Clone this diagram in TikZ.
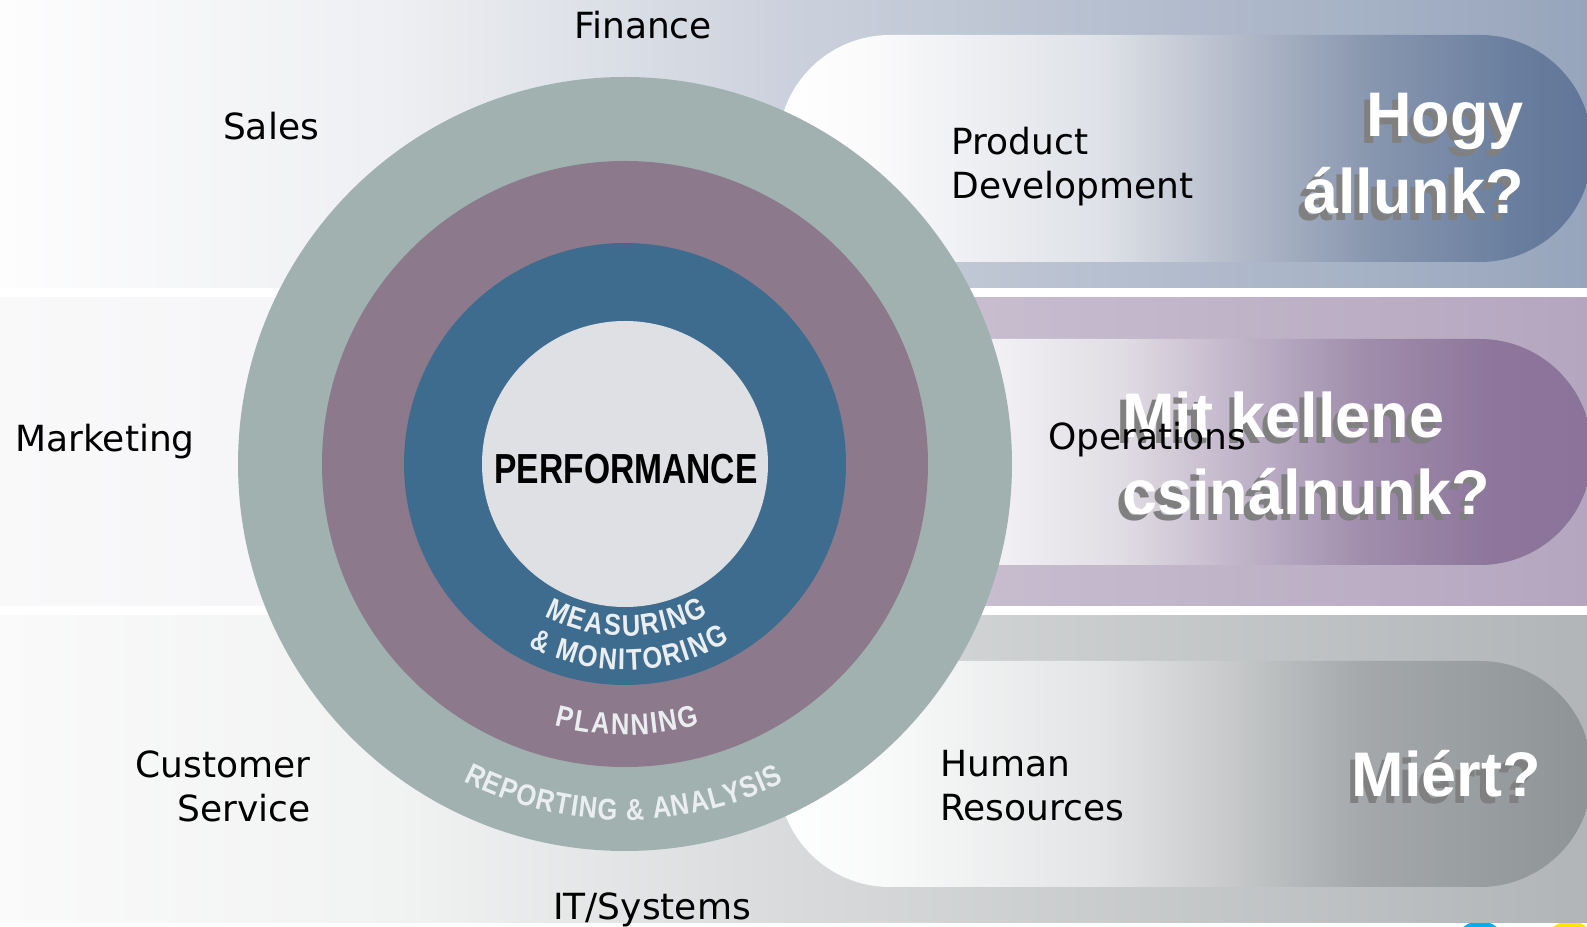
\documentclass[tikz,border=0pt]{standalone}
\usepackage{fontspec}
\setmainfont{DejaVu Sans}
\newfontfamily\deptfont{DejaVu Sans}
\newfontfamily\bigfont{Liberation Sans}
\newfontfamily\perffont[FakeStretch=0.8]{Liberation Sans}
\newfontfamily\ringfont[FakeStretch=0.85]{Liberation Sans}
\usepackage{tikz}
\usetikzlibrary{decorations.text}

\newcommand\ringstyle{\ringfont\bfseries\fontsize{15}{15}\selectfont\color{ringtext}}
\newcommand\ringamp{\ringstyle\&}

\definecolor{outerring}{RGB}{161,177,176}
\definecolor{planring}{RGB}{140,121,139}
\definecolor{measring}{RGB}{61,108,143}
\definecolor{perfcore}{RGB}{223,224,228}
\definecolor{ringtext}{RGB}{234,238,240}
\definecolor{qshadow}{RGB}{128,128,128}
\definecolor{logocyan}{RGB}{0,174,239}
\definecolor{logoyellow}{RGB}{255,230,0}
% background bands
\definecolor{tb0}{RGB}{253,253,254}
\definecolor{tb1}{RGB}{238,239,242}
\definecolor{tb2}{RGB}{203,209,220}
\definecolor{tb3}{RGB}{151,165,188}
\definecolor{mb0}{RGB}{249,249,250}
\definecolor{mb1}{RGB}{243,242,245}
\definecolor{mb2}{RGB}{203,193,211}
\definecolor{mb3}{RGB}{199,189,207}
\definecolor{mb4}{RGB}{181,166,191}
\definecolor{bb0}{RGB}{250,250,250}
\definecolor{bb1}{RGB}{241,242,242}
\definecolor{bb2}{RGB}{216,218,219}
\definecolor{bb3}{RGB}{178,181,183}
% pills
\definecolor{tp1}{RGB}{250,250,251}
\definecolor{tp2}{RGB}{222,225,231}
\definecolor{tp3}{RGB}{183,190,204}
\definecolor{tp4}{RGB}{138,152,176}
\definecolor{tp5}{RGB}{106,127,159}
\definecolor{tp6}{RGB}{96,117,152}
\definecolor{mp1}{RGB}{241,240,243}
\definecolor{mp2}{RGB}{225,221,228}
\definecolor{mp3}{RGB}{196,185,204}
\definecolor{mp4}{RGB}{160,141,172}
\definecolor{mp5}{RGB}{141,117,155}
\definecolor{mp6}{RGB}{139,115,153}
\definecolor{lp1}{RGB}{247,248,248}
\definecolor{lp2}{RGB}{226,228,229}
\definecolor{lp3}{RGB}{200,202,203}
\definecolor{lp4}{RGB}{164,168,170}
\definecolor{lp5}{RGB}{142,147,150}

\pgfdeclarehorizontalshading{topband}{100bp}{color(0bp)=(tb0); color(25bp)=(tb0); color(37.5bp)=(tb1); color(50bp)=(tb2); color(75bp)=(tb3); color(100bp)=(tb3)}
\pgfdeclarehorizontalshading{midband}{100bp}{color(0bp)=(mb0); color(25bp)=(mb0); color(40bp)=(mb1); color(50bp)=(mb2); color(56bp)=(mb3); color(75bp)=(mb4); color(100bp)=(mb4)}
\pgfdeclarehorizontalshading{lowband}{100bp}{color(0bp)=(bb0); color(25bp)=(bb0); color(37.5bp)=(bb1); color(50bp)=(bb2); color(75bp)=(bb3); color(100bp)=(bb3)}
\pgfdeclarehorizontalshading{toppill}{100bp}{color(0bp)=(white); color(25bp)=(white); color(31bp)=(tp1); color(45bp)=(tp2); color(52.5bp)=(tp3); color(61bp)=(tp4); color(70bp)=(tp5); color(75bp)=(tp6); color(100bp)=(tp6)}
\pgfdeclarehorizontalshading{midpill}{100bp}{color(0bp)=(white); color(25bp)=(white); color(38.5bp)=(mp1); color(46bp)=(mp2); color(52.5bp)=(mp3); color(61bp)=(mp4); color(69bp)=(mp5); color(75bp)=(mp6); color(100bp)=(mp6)}
\pgfdeclarehorizontalshading{lowpill}{100bp}{color(0bp)=(white); color(25bp)=(white); color(32.5bp)=(lp1); color(45bp)=(lp2); color(52.5bp)=(lp3); color(61bp)=(lp4); color(75bp)=(lp5); color(100bp)=(lp5)}

\begin{document}
\begin{tikzpicture}[x=0.5pt, y=0.5pt,
    dept/.style={font=\deptfont\fontsize{18}{22}\selectfont, inner sep=0pt},
    question/.style={font=\bigfont\bfseries\fontsize{31.5}{38.5}\selectfont, text=white, inner sep=0pt},
    qshade/.style={question, text=qshadow, xshift=-2.75pt, yshift=-3.25pt},
    ring/.style={circle, inner sep=0pt},
    pill/.style={rounded corners=56pt},
    ringword/.style={decorate, decoration={text along path, text align=fit to path,
        text={|\ringstyle|#1}}}]
    \useasboundingbox (0,0) rectangle (1587,927);
    \fill[white] (0,0) rectangle (1587,927);

    % logo peeking in at the bottom edge
    \fill[logocyan] (1480,-20) circle[radius=26];
    \fill[logoyellow] (1570,-20) circle[radius=26];

    % Bandes de fond
    \shade[shading=topband] (0,639) rectangle (1587,927);
    \shade[shading=midband] (0,321) rectangle (1587,629);
    \shade[shading=lowband] (0,4) rectangle (1587,311);

    % Pilules
    \shade[pill, shading=toppill] (778,665) rectangle (1592,892);
    \shade[pill, shading=midpill] (778,362) rectangle (1592,588);
    \shade[pill, shading=lowpill] (778,40) rectangle (1592,266);

    % Cible
    \coordinate (ctr) at (625,463);
    \node[ring, fill=outerring, minimum size=387pt] (reporting) at (ctr) {};
    \node[ring, fill=planring, minimum size=303pt] (planning) at (ctr) {};
    \node[ring, fill=measring, minimum size=221pt] (measuring) at (ctr) {};
    \node[ring, fill=perfcore, minimum size=143pt] (core) at (ctr) {};
    \node[font=\perffont\bfseries\fontsize{21}{21}\selectfont, inner sep=0pt] (perf) at (626,458) {PERFORMANCE};

    % Textes courbes
    \path[ringword={MEASURING}, shift={(ctr)}] (242:172) arc[start angle=242, end angle=299, radius=172];
    \path[ringword={{\ringamp} MONITORING}, shift={(ctr)}] (242:206) arc[start angle=242, end angle=300.5, radius=206];
    \path[ringword={PLANNING}, shift={(ctr)}] (255:271) arc[start angle=255, end angle=286, radius=271];
    \path[ringword={REPORTING {\ringamp} ANALYSIS}, shift={(ctr)}] (243:356) arc[start angle=243, end angle=296.5, radius=356];

    % Départements
    \node[dept, anchor=base] (finance) at (643,888) {Finance};
    \node[dept, anchor=base] (sales) at (271,787) {Sales};
    \node[dept, anchor=north west, align=left] (product) at (951,800) {Product\\Development};
    \node[dept, anchor=base west] (marketing) at (15,475) {Marketing};
    \node[dept, anchor=north east, align=right] (customer) at (311,177) {Customer\\Service};
    \node[dept, anchor=north west, align=left] (human) at (940,177) {Human\\Resources};
    \node[dept, anchor=base] (itsys) at (652,7) {IT/Systems};

    % Questions
    \node[qshade, anchor=north east, align=right] (hogyshadow) at (1524,834) {Hogy\\állunk?};
    \node[question, anchor=north east, align=right] (hogy) at (1524,834) {Hogy\\állunk?};
    \node[qshade, anchor=north west, align=left] (mitshadow) at (1122,536) {Mit kellene\\csinálnunk?};
    \node[question, anchor=north west, align=left] (mit) at (1122,536) {Mit kellene\\csinálnunk?};
    \node[qshade, anchor=base east] (miertshadow) at (1541,130) {Miért?};
    \node[question, anchor=base east] (miert) at (1541,130) {Miért?};

    \node[dept, anchor=base west] (operations) at (1048,477) {Operations};
\end{tikzpicture}
\end{document}
